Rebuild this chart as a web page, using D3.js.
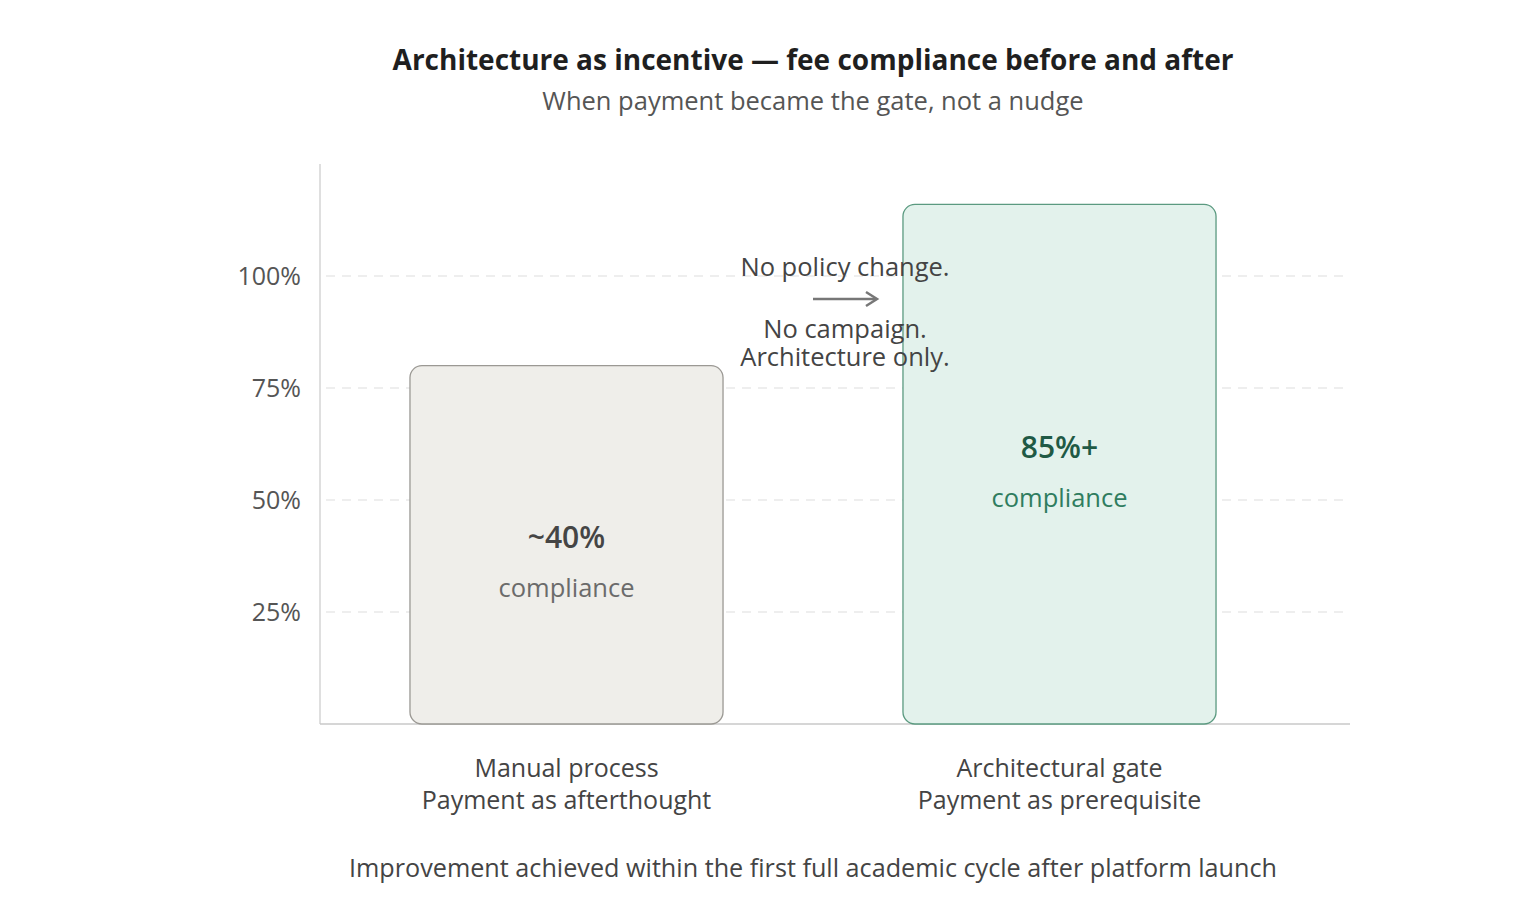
<!DOCTYPE html>
<html>
<head>
<meta charset="utf-8">
<script src="https://cdn.jsdelivr.net/npm/d3@7"></script>
<style>
  html, body { margin: 0; padding: 0; background: #ffffff; }
  svg { display: block; font-family: "Open Sans", "Noto Sans", sans-serif; }
</style>
</head>
<body>
<svg id="chart" width="1534" height="920"></svg>
<script>
// ---- data ----
const categories = ["Manual process", "Architectural gate"];
const subLabels = ["Payment as afterthought", "Payment as prerequisite"];
const barValues = [80, 116];
const valueLabels = ["~40%", "85%+"];
const unitLabels = ["compliance", "compliance"];
const yTicks = [25, 50, 75, 100];
const yTickLabels = ["25%", "50%", "75%", "100%"];
const title = "Architecture as incentive \u2014 fee compliance before and after";
const subtitle = "When payment became the gate, not a nudge";
const annotationLines = ["No policy change.", "No campaign.", "Architecture only."];
const footnote = "Improvement achieved within the first full academic cycle after platform launch";

// ---- styles ----
const barFill = ["#efeeea", "#e3f2ec"];
const barStroke = ["#9b9994", "#5b9a80"];
const valueColor = ["#454545", "#1f5a45"];
const unitColor = ["#6b6b6b", "#2f7d5f"];

const svg = d3.select("#chart");
const pLeft = 320, pRight = 1350, pTop = 164, pBottom = 724;

const y = d3.scaleLinear().domain([0, 125]).range([pBottom, pTop]);
const x = d3.scaleBand().domain(categories).range([pLeft, 1306])
  .paddingInner(0.365).paddingOuter(0.1825);

// title
svg.append("text").attr("x", 813).attr("y", 70).attr("text-anchor", "middle")
  .attr("font-size", 28).attr("font-weight", 700).attr("fill", "#1f1f1f").text(title);
svg.append("text").attr("x", 813).attr("y", 110).attr("text-anchor", "middle")
  .attr("font-size", 25.5).attr("fill", "#555").text(subtitle);

// gridlines
svg.append("g").selectAll("line").data(yTicks).join("line")
  .attr("x1", pLeft + 6).attr("x2", pRight)
  .attr("y1", d => y(d)).attr("y2", d => y(d))
  .attr("stroke", "#dedede").attr("stroke-width", 1.2).attr("stroke-dasharray", "9,7");

// y axis
const yAxis = d3.axisLeft(y).tickValues(yTicks).tickSize(0).tickPadding(19)
  .tickFormat((d, i) => yTickLabels[i]);
const gy = svg.append("g").attr("transform", `translate(${pLeft},0)`).call(yAxis);
gy.select(".domain").remove();
gy.selectAll("text").attr("font-size", 25).attr("fill", "#555")
  .attr("font-family", "'Open Sans', 'Noto Sans', sans-serif");

// axis lines
svg.append("line").attr("x1", pLeft).attr("x2", pLeft).attr("y1", pTop).attr("y2", pBottom)
  .attr("stroke", "#d4d4d4").attr("stroke-width", 1.5);
svg.append("line").attr("x1", pLeft).attr("x2", pRight).attr("y1", pBottom).attr("y2", pBottom)
  .attr("stroke", "#c8c8c8").attr("stroke-width", 1.5);

// bars
const bars = categories.map((c, i) => ({ c, i, v: barValues[i] }));
svg.append("g").selectAll("rect").data(bars).join("rect")
  .attr("x", d => x(d.c)).attr("width", x.bandwidth())
  .attr("y", d => y(d.v)).attr("height", d => y(0) - y(d.v))
  .attr("rx", 12).attr("ry", 12)
  .attr("fill", d => barFill[d.i]).attr("stroke", d => barStroke[d.i]).attr("stroke-width", 1.3);

// bar labels (placed relative to bar top and height)
const labelCenter = d => y(d.v) + 0.444 * (y(0) - y(d.v));
svg.append("g").selectAll("text").data(bars).join("text")
  .attr("x", d => x(d.c) + x.bandwidth() / 2)
  .attr("y", d => labelCenter(d) + 13 + 10)
  .attr("text-anchor", "middle").attr("font-size", 30).attr("font-weight", 600)
  .attr("fill", d => valueColor[d.i]).text(d => valueLabels[d.i]);
svg.append("g").selectAll("text").data(bars).join("text")
  .attr("x", d => x(d.c) + x.bandwidth() / 2)
  .attr("y", d => labelCenter(d) + 63 + 9)
  .attr("text-anchor", "middle").attr("font-size", 25.5)
  .attr("fill", d => unitColor[d.i]).text(d => unitLabels[d.i]);

// x labels
const xl = svg.append("g").selectAll("text").data(bars).join("text")
  .attr("text-anchor", "middle").attr("font-size", 25).attr("fill", "#444");
xl.append("tspan").attr("x", d => x(d.c) + x.bandwidth() / 2).attr("y", 777).text(d => d.c);
xl.append("tspan").attr("x", d => x(d.c) + x.bandwidth() / 2).attr("y", 809).text(d => subLabels[d.i]);

// annotation
const ax = 845;
svg.append("text").attr("x", ax).attr("y", 276).attr("text-anchor", "middle")
  .attr("font-size", 25.5).attr("fill", "#444").text(annotationLines[0]);
const ann2 = svg.append("text").attr("text-anchor", "middle")
  .attr("font-size", 25.5).attr("fill", "#444");
ann2.append("tspan").attr("x", ax).attr("y", 338).text(annotationLines[1]);
ann2.append("tspan").attr("x", ax).attr("y", 366).text(annotationLines[2]);
svg.append("line").attr("x1", 813).attr("x2", 876).attr("y1", 299).attr("y2", 299)
  .attr("stroke", "#777").attr("stroke-width", 2.5);
svg.append("path").attr("d", "M866,292 L877,299 L866,306")
  .attr("fill", "none").attr("stroke", "#777").attr("stroke-width", 2.5);

// footnote
svg.append("text").attr("x", 813).attr("y", 877).attr("text-anchor", "middle")
  .attr("font-size", 25.2).attr("fill", "#444").text(footnote);
</script>
</body>
</html>
